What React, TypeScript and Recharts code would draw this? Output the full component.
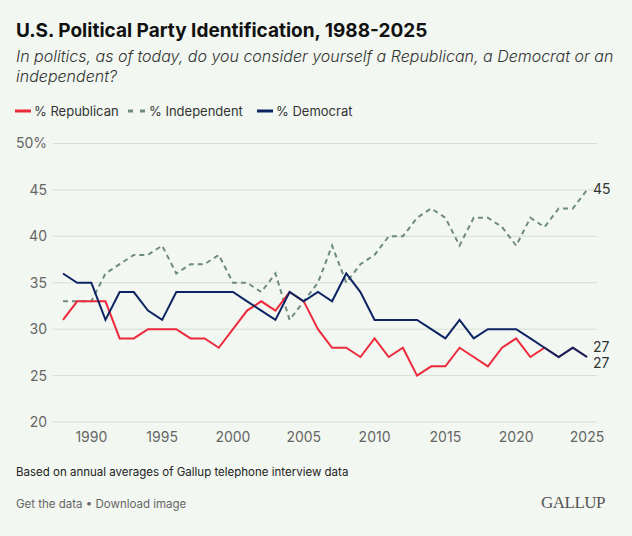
import { CartesianGrid, Line, LineChart, XAxis, YAxis } from "recharts";

const years = [
  1988, 1989, 1990, 1991, 1992, 1993, 1994, 1995, 1996, 1997, 1998, 1999, 2000,
  2001, 2002, 2003, 2004, 2005, 2006, 2007, 2008, 2009, 2010, 2011, 2012, 2013,
  2014, 2015, 2016, 2017, 2018, 2019, 2020, 2021, 2022, 2023, 2024, 2025,
];
const republican = [
  31, 33, 33, 33, 29, 29, 30, 30, 30, 29, 29, 28, 30, 32, 33, 32, 34, 33, 30,
  28, 28, 27, 29, 27, 28, 25, 26, 26, 28, 27, 26, 28, 29, 27, 28, 27, 28, 27,
];
const independent = [
  33, 33, 33, 36, 37, 38, 38, 39, 36, 37, 37, 38, 35, 35, 34, 36, 31, 33, 35,
  39, 35, 37, 38, 40, 40, 42, 43, 42, 39, 42, 42, 41, 39, 42, 41, 43, 43, 45,
];
const democrat = [
  36, 35, 35, 31, 34, 34, 32, 31, 34, 34, 34, 34, 34, 33, 32, 31, 34, 33, 34,
  33, 36, 34, 31, 31, 31, 31, 30, 29, 31, 29, 30, 30, 30, 29, 28, 27, 28, 27,
];
const xTicks = [1990, 1995, 2000, 2005, 2010, 2015, 2020, 2025];
const yTicks = [20, 25, 30, 35, 40, 45, 50];

const data = years.map((year, i) => ({
  year,
  republican: republican[i],
  independent: independent[i],
  democrat: democrat[i],
}));

const RED = "#ec2a3b";
const GREEN = "#6f8b80";
const NAVY = "#0c2462";
const BG = "#f2f7f1";
const FONT = "Inter, 'Noto Sans', sans-serif";

const last = data.length - 1;

// value label next to the final point of a series
const endLabel = (dy: number) => (props: any) => {
  const { cx, cy, index, value } = props;
  if (index !== last) return <g key={`d-${index}`} />;
  return (
    <text
      key={`d-${index}`}
      x={cx + 6}
      y={cy + dy}
      fontSize={14}
      fill="#333"
      fontFamily={FONT}
      dominantBaseline="middle"
    >
      {value}
    </text>
  );
};

function LegendItem({
  left,
  color,
  dashed,
  label,
}: {
  left: number;
  color: string;
  dashed?: boolean;
  label: string;
}) {
  const w = dashed ? 18 : 16;
  return (
    <div
      style={{
        position: "absolute",
        left,
        top: 0,
        display: "flex",
        alignItems: "center",
        whiteSpace: "nowrap",
      }}
    >
      <svg width={w} height={4} style={{ marginRight: 3 }}>
        <line
          x1={0}
          y1={2}
          x2={w}
          y2={2}
          stroke={color}
          strokeWidth={3}
          strokeDasharray={dashed ? "5 7" : undefined}
        />
      </svg>
      {label}
    </div>
  );
}

export default function App() {
  return (
    <div
      style={{
        position: "relative",
        width: 632,
        height: 536,
        background: BG,
        fontFamily: FONT,
        color: "#222",
        overflow: "hidden",
      }}
    >
      <style>{`body{margin:0}`}</style>
      <div
        style={{
          position: "absolute",
          left: 16,
          top: 21,
          fontSize: 19,
          lineHeight: "19px",
          fontWeight: 700,
          color: "#111",
          whiteSpace: "nowrap",
        }}
      >
        U.S. Political Party Identification, 1988-2025
      </div>
      <div
        style={{
          position: "absolute",
          left: 16,
          top: 46,
          fontSize: 16,
          lineHeight: "20px",
          fontStyle: "italic",
          fontWeight: 300,
          color: "#333",
          whiteSpace: "nowrap",
        }}
      >
        In politics, as of today, do you consider yourself a Republican, a Democrat or an
        <br />
        independent?
      </div>
      <div
        style={{
          position: "absolute",
          left: 0,
          top: 102,
          width: 632,
          height: 18,
          fontSize: 13,
          lineHeight: "18px",
          color: "#333",
        }}
      >
        <LegendItem left={15} color={RED} label="% Republican" />
        <LegendItem left={128} color={GREEN} dashed label="% Independent" />
        <LegendItem left={257} color={NAVY} label="% Democrat" />
      </div>

      <div style={{ position: "absolute", left: 0, top: 0 }}>
        <LineChart
          width={632}
          height={455}
          data={data}
          margin={{ top: 143.5, right: 35, bottom: 3, left: 0 }}
        >
          <CartesianGrid vertical={false} stroke="#d7dcd6" />
          <XAxis
            dataKey="year"
            type="number"
            domain={[1988, 2025]}
            ticks={xTicks}
            padding={{ left: 10, right: 10 }}
            axisLine={false}
            tickLine={false}
            tickSize={0}
            tickMargin={10}
            height={30}
            tick={{ fontSize: 14, fill: "#666", fontFamily: FONT }}
          />
          <YAxis
            type="number"
            domain={[20, 50]}
            ticks={yTicks}
            axisLine={false}
            tickLine={false}
            tickSize={0}
            tickMargin={6}
            width={53}
            tickFormatter={(v: number) => (v === 50 ? "50%" : String(v))}
            tick={{ fontSize: 14, fill: "#666", fontFamily: FONT }}
          />
          <Line
            dataKey="independent"
            stroke={GREEN}
            strokeWidth={2}
            strokeDasharray="5 4"
            dot={endLabel(0)}
            activeDot={false}
            isAnimationActive={false}
          />
          <Line
            dataKey="republican"
            stroke={RED}
            strokeWidth={2}
            dot={endLabel(7)}
            activeDot={false}
            isAnimationActive={false}
          />
          <Line
            dataKey="democrat"
            stroke={NAVY}
            strokeWidth={2}
            dot={endLabel(-9)}
            activeDot={false}
            isAnimationActive={false}
          />
        </LineChart>
      </div>

      <div
        style={{
          position: "absolute",
          left: 16,
          top: 465,
          fontSize: 11.5,
          lineHeight: "14px",
          color: "#222",
          whiteSpace: "nowrap",
        }}
      >
        Based on annual averages of Gallup telephone interview data
      </div>
      <div
        style={{
          position: "absolute",
          left: 16,
          top: 497,
          fontSize: 11.5,
          lineHeight: "14px",
          color: "#666",
          whiteSpace: "nowrap",
        }}
      >
        Get the data • Download image
      </div>
      <div
        style={{
          position: "absolute",
          left: 541,
          top: 494,
          fontSize: 17,
          lineHeight: "18px",
          fontFamily: "'Liberation Serif', 'DejaVu Serif', serif",
          color: "#555",
          letterSpacing: "-0.5px",
        }}
      >
        GALLUP
      </div>
    </div>
  );
}
